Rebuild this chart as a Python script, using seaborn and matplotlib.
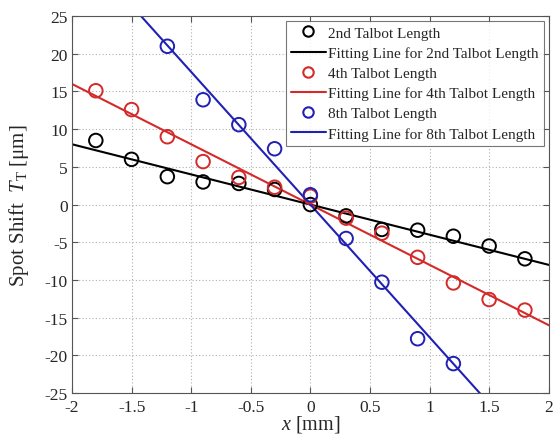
import matplotlib
matplotlib.use("Agg")
import matplotlib.pyplot as plt
import seaborn as sns
import pandas as pd
import numpy as np

# ---- data ----
x_pos = [-1.8, -1.5, -1.2, -0.9, -0.6, -0.3, 0.0, 0.3, 0.6, 0.9, 1.2, 1.5, 1.8]
shift_2nd = [8.5, 6.0, 3.7, 3.0, 2.8, 2.0, 0.0, -1.5, -3.3, -3.4, -4.2, -5.5, -7.2]
shift_4th = [15.1, 12.6, 9.0, 5.7, 3.6, 2.3, 1.1, -1.8, -3.8, -7.0, -10.4, -12.6, -14.0]
x_pos_8th = [-1.2, -0.9, -0.6, -0.3, 0.0, 0.3, 0.6, 0.9, 1.2]
shift_8th = [21.0, 13.9, 10.6, 7.4, 1.3, -4.5, -10.3, -17.8, -21.1]

fit_x = [-2.0, 2.0]
fit_2nd = [8.0, -8.0]
fit_4th = [16.0, -16.0]
fit_8th = [35.2, -35.2]

labels_pts = ["2nd Talbot Length", "4th Talbot Length", "8th Talbot Length"]
labels_fit = ["Fitting Line for 2nd Talbot Length",
              "Fitting Line for 4th Talbot Length",
              "Fitting Line for 8th Talbot Length"]
colors = ["#000000", "#d42a2a", "#2020b4"]

x_ticks = [-2, -1.5, -1, -0.5, 0, 0.5, 1, 1.5, 2]
y_ticks = [-25, -20, -15, -10, -5, 0, 5, 10, 15, 20, 25]

# ---- style ----
sns.set_style("ticks")
plt.rcParams["font.family"] = ["Liberation Serif", "DejaVu Serif"]
plt.rcParams["mathtext.fontset"] = "custom"
plt.rcParams["mathtext.rm"] = "Liberation Serif"
plt.rcParams["mathtext.it"] = "Liberation Serif:italic"

fig = plt.figure(figsize=(5.55, 4.39), dpi=100)
ax = fig.add_axes([0.1297, 0.1025, 0.859, 0.8585])

pts_sets = [(x_pos, shift_2nd), (x_pos, shift_4th), (x_pos_8th, shift_8th)]
fit_sets = [fit_2nd, fit_4th, fit_8th]
handles = []
for (xs, ys), fy, c, lp, lf in zip(pts_sets, fit_sets, colors, labels_pts, labels_fit):
    sns.lineplot(x=fit_x, y=fy, color=c, lw=1.5, ax=ax, zorder=2)
    sns.scatterplot(x=xs, y=ys, ax=ax, marker="o", s=95, facecolors="none",
                    edgecolor=c, linewidth=1.4, zorder=3)
    h1 = plt.Line2D([], [], marker="o", ls="none", mfc="none", mec=c, mew=1.5, ms=7.5, label=lp)
    h2 = plt.Line2D([], [], color=c, lw=1.5, label=lf)
    handles += [h1, h2]

ax.set_xlim(-2, 2)
ax.set_ylim(-25, 25)
ax.set_xticks(x_ticks)
ax.set_xticklabels(["-2", "-1.5", "-1", "-0.5", "0", "0.5", "1", "1.5", "2"])
ax.set_yticks(y_ticks)
ax.set_yticklabels([str(v) for v in y_ticks])
ax.grid(True, ls=(0, (1, 2)), color="#b0b0b0", lw=0.8)
ax.tick_params(direction="in", top=True, right=True, labelsize=12.5, length=4,
               color="#555555")
ax.tick_params(axis="x", pad=4)
ax.tick_params(axis="y", pad=3)
for sp in ax.spines.values():
    sp.set_color("#555555")
    sp.set_linewidth(0.8)

ax.set_xlabel(r"$\mathit{x}$ [mm]", fontsize=14.5, labelpad=-1)
ax.set_ylabel(r"Spot Shift  $\mathit{T}_{\mathrm{T}}$ [μm]", fontsize=15, labelpad=10)

leg = ax.legend(handles=handles, loc="upper right", fontsize=11, frameon=True,
                fancybox=False, edgecolor="#555555", borderpad=0.35, labelspacing=0.42,
                handlelength=2.3, handletextpad=0.15, borderaxespad=0.3)
leg.get_frame().set_linewidth(0.8)

fig.savefig("out.png", dpi=100)
